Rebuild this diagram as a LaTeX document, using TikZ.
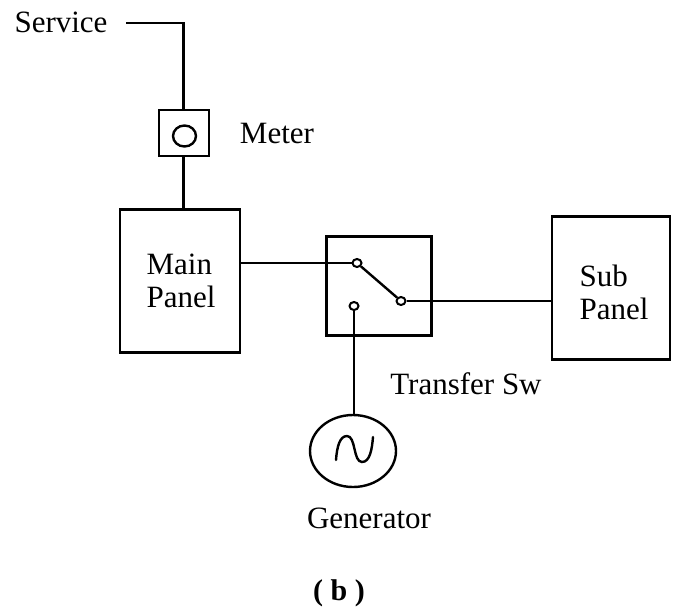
\documentclass[tikz,border=0pt]{standalone}
\usepackage{fontspec}
\setmainfont{Liberation Serif}
\usetikzlibrary{positioning}
\usetikzlibrary{calc}
\usetikzlibrary{shapes.geometric}
\tikzset{
	box/.style={draw, line width=2.4pt, inner sep=0pt},
	contact/.style={ellipse, draw, line width=2pt, fill=white, minimum width=9pt, minimum height=8pt, inner sep=0pt},
	lbl/.style={font=\fontsize{31}{33}\selectfont, inner sep=0pt, align=left},
	wire/.style={line width=2.4pt}
}
\begin{document}
\begin{tikzpicture}[x=1pt,y=-1pt]
	\useasboundingbox (0,0) rectangle (676,613);
	% texts
	\node[lbl] (service) at (61,22) {Service};
	\node[lbl] (meterlabel) at (277,133) {Meter};
	\node[lbl] (mainlabel) at (181,281) {Main\\Panel};
	\node[lbl] (sublabel) at (614,292) {Sub\\Panel};
	\node[lbl] (transferlabel) at (466,384) {Transfer Sw};
	\node[lbl] (generatorlabel) at (369,518) {Generator};
	\node[lbl, font=\fontsize{30}{32}\selectfont] (caption) at (339,593) {\textbf{( b )}};
	% boxes
	\node[box, minimum width=50pt, minimum height=46pt] (meter) at (184,133) {};
	\node[ellipse, draw, line width=2.4pt, minimum width=23pt, minimum height=21pt, inner sep=0pt] (meterdial) at (184.5,136) {};
	\node[box, minimum width=120pt, minimum height=143pt] (main) at (180,281) {};
	\node[box, minimum width=105pt, minimum height=99pt] (switch) at (379,286) {};
	\node[box, minimum width=118pt, minimum height=143pt] (sub) at (611,288) {};
	\node[ellipse, draw, line width=2.4pt, minimum width=86pt, minimum height=72pt, inner sep=0pt] (generator) at (353,451) {};
	% sine
	\draw[wire, line cap=round] ($(generator.center)+(-17,9)$) .. controls +(1,-14) and +(-7,0) .. ($(generator.center)+(-6,-15)$) .. controls +(9,0) and +(-9,0) .. ($(generator.center)+(9,11)$) .. controls +(8,0) and +(-1,12) .. ($(generator.center)+(20,-14)$);
	% switch contacts
	\node[contact] (swa) at (357,263) {};
	\node[contact] (swb) at (401,301) {};
	\node[contact] (swc) at (354,306) {};
	% service feed
	\coordinate (servicewire) at (126,23);
	\coordinate (bend) at (183.5,23);
	\draw[wire] (servicewire) -- (bend) -- (meter.north -| bend);
	\draw[wire] (meter.south -| bend) -- (main.north -| bend);
	\draw[wire] (main.east |- swa) -- (swa);
	\draw[wire] (swa) -- (swb);
	\draw[wire] (swb) -- (sub.west |- swb);
	\draw[wire] (swc) -- (generator.north -| swc);
\end{tikzpicture}
\end{document}
